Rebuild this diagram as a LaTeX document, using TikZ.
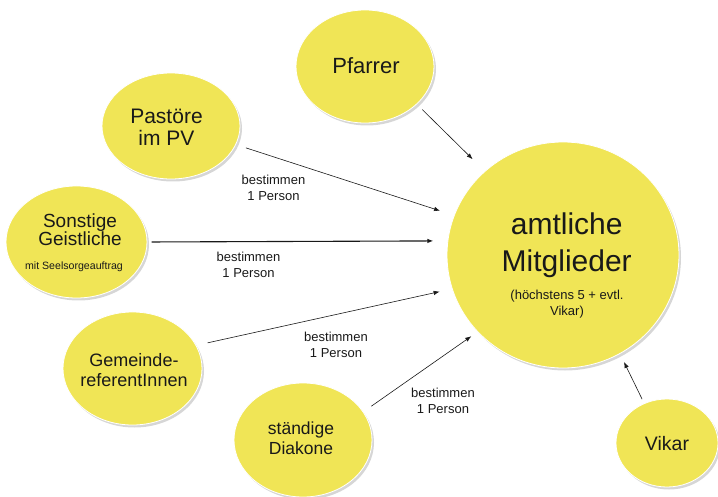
\documentclass[tikz,border=0pt]{standalone}
\usepackage{fontspec}
\setmainfont{Liberation Sans}
\usetikzlibrary{shapes.geometric, arrows.meta, shadows}
\definecolor{ylw}{RGB}{240,229,86}
\definecolor{ink}{RGB}{25,25,25}
\tikzset{
  blob/.style={ellipse, fill=ylw, draw=white, line width=0.8pt, inner sep=0pt, outer sep=0pt,
    drop shadow={shadow xshift=2pt, shadow yshift=-2.5pt, fill=black, opacity=0.16}},
  txt/.style={anchor=base, align=center, text=ink, inner sep=0pt},
  lbl/.style={anchor=base, align=center, font=\fontsize{13}{16}\selectfont, text=ink, inner sep=0pt},
  arr/.style={-{Latex[length=6pt,width=4.5pt]}, line width=0.6pt, draw=ink}
}
\begin{document}
\begin{tikzpicture}[x=1pt, y=-1pt]
\useasboundingbox (0,0) rectangle (718,497);
% circles
\node[blob, minimum width=138pt, minimum height=113pt] (pf) at (365,66.5) {};
\node[blob, minimum width=138pt, minimum height=106pt] (pa) at (171,126) {};
\node[blob, minimum width=141pt, minimum height=112pt] (so) at (76.5,242) {};
\node[blob, minimum width=139pt, minimum height=113pt] (ge) at (132.5,368.5) {};
\node[blob, minimum width=138pt, minimum height=114pt] (di) at (303,440) {};
\node[blob, minimum width=232pt, minimum height=226pt] (big) at (563,255) {};
\node[blob, minimum width=102pt, minimum height=88pt] (vi) at (667,443) {};
% texts (base anchor = baseline of last line)
\node[txt, font=\fontsize{22}{26}\selectfont] (pft) at (366,74) {Pfarrer};
\node[txt, font=\fontsize{21}{22.3}\selectfont] (pat) at (166.5,145.7) {Pastöre\\im PV};
\node[txt, font=\fontsize{19}{18.7}\selectfont] (sot) at (80,246) {Sonstige\\Geistliche};
\node[txt, font=\fontsize{10.6}{12}\selectfont] (sos) at (74,269.3) {mit Seelsorgeauftrag};
\node[txt, font=\fontsize{18}{20.7}\selectfont] (get) at (134,386.7) {Gemeinde-\\referentInnen};
\node[txt, font=\fontsize{17.5}{20}\selectfont] (dit) at (301,454.3) {ständige\\Diakone};
\node[txt, font=\fontsize{19.5}{22}\selectfont] (vit) at (667,450.7) {Vikar};
\node[txt, font=\fontsize{30}{36.7}\selectfont] (bigt) at (566.7,271.7) {amtliche\\Mitglieder};
\node[txt, font=\fontsize{13}{16}\selectfont] (bign) at (567,316) {(höchstens 5 + evtl.\\Vikar)};
% labels
\node[lbl] (l1) at (273.5,201) {bestimmen\\1 Person};
\node[lbl] (l2) at (248.5,277.7) {bestimmen\\1 Person};
\node[lbl] (l3) at (336,357) {bestimmen\\1 Person};
\node[lbl] (l4) at (443,413.3) {bestimmen\\1 Person};
% arrows
\draw[arr, shorten <=7.9pt, shorten >=17.4pt] (pf.-36.6) -- (big.133.7);
\draw[arr, shorten <=10.8pt, shorten >=15pt] (pa.-16.4) -- (big.160.1);
\draw[arr, line width=1.1pt, shorten <=4.7pt, shorten >=14.5pt] (so.0) -- (big.173.6);
\draw[arr, shorten <=12pt, shorten >=13pt] (ge.20.6) -- (big.197.6);
\draw[arr, shorten <=10.1pt, shorten >=8pt] (di.25.6) -- (big.222.4);
\draw[arr, shorten <=5pt, shorten >=9.5pt] (vi.120.3) -- (big.-60.9);
\end{tikzpicture}
\end{document}
